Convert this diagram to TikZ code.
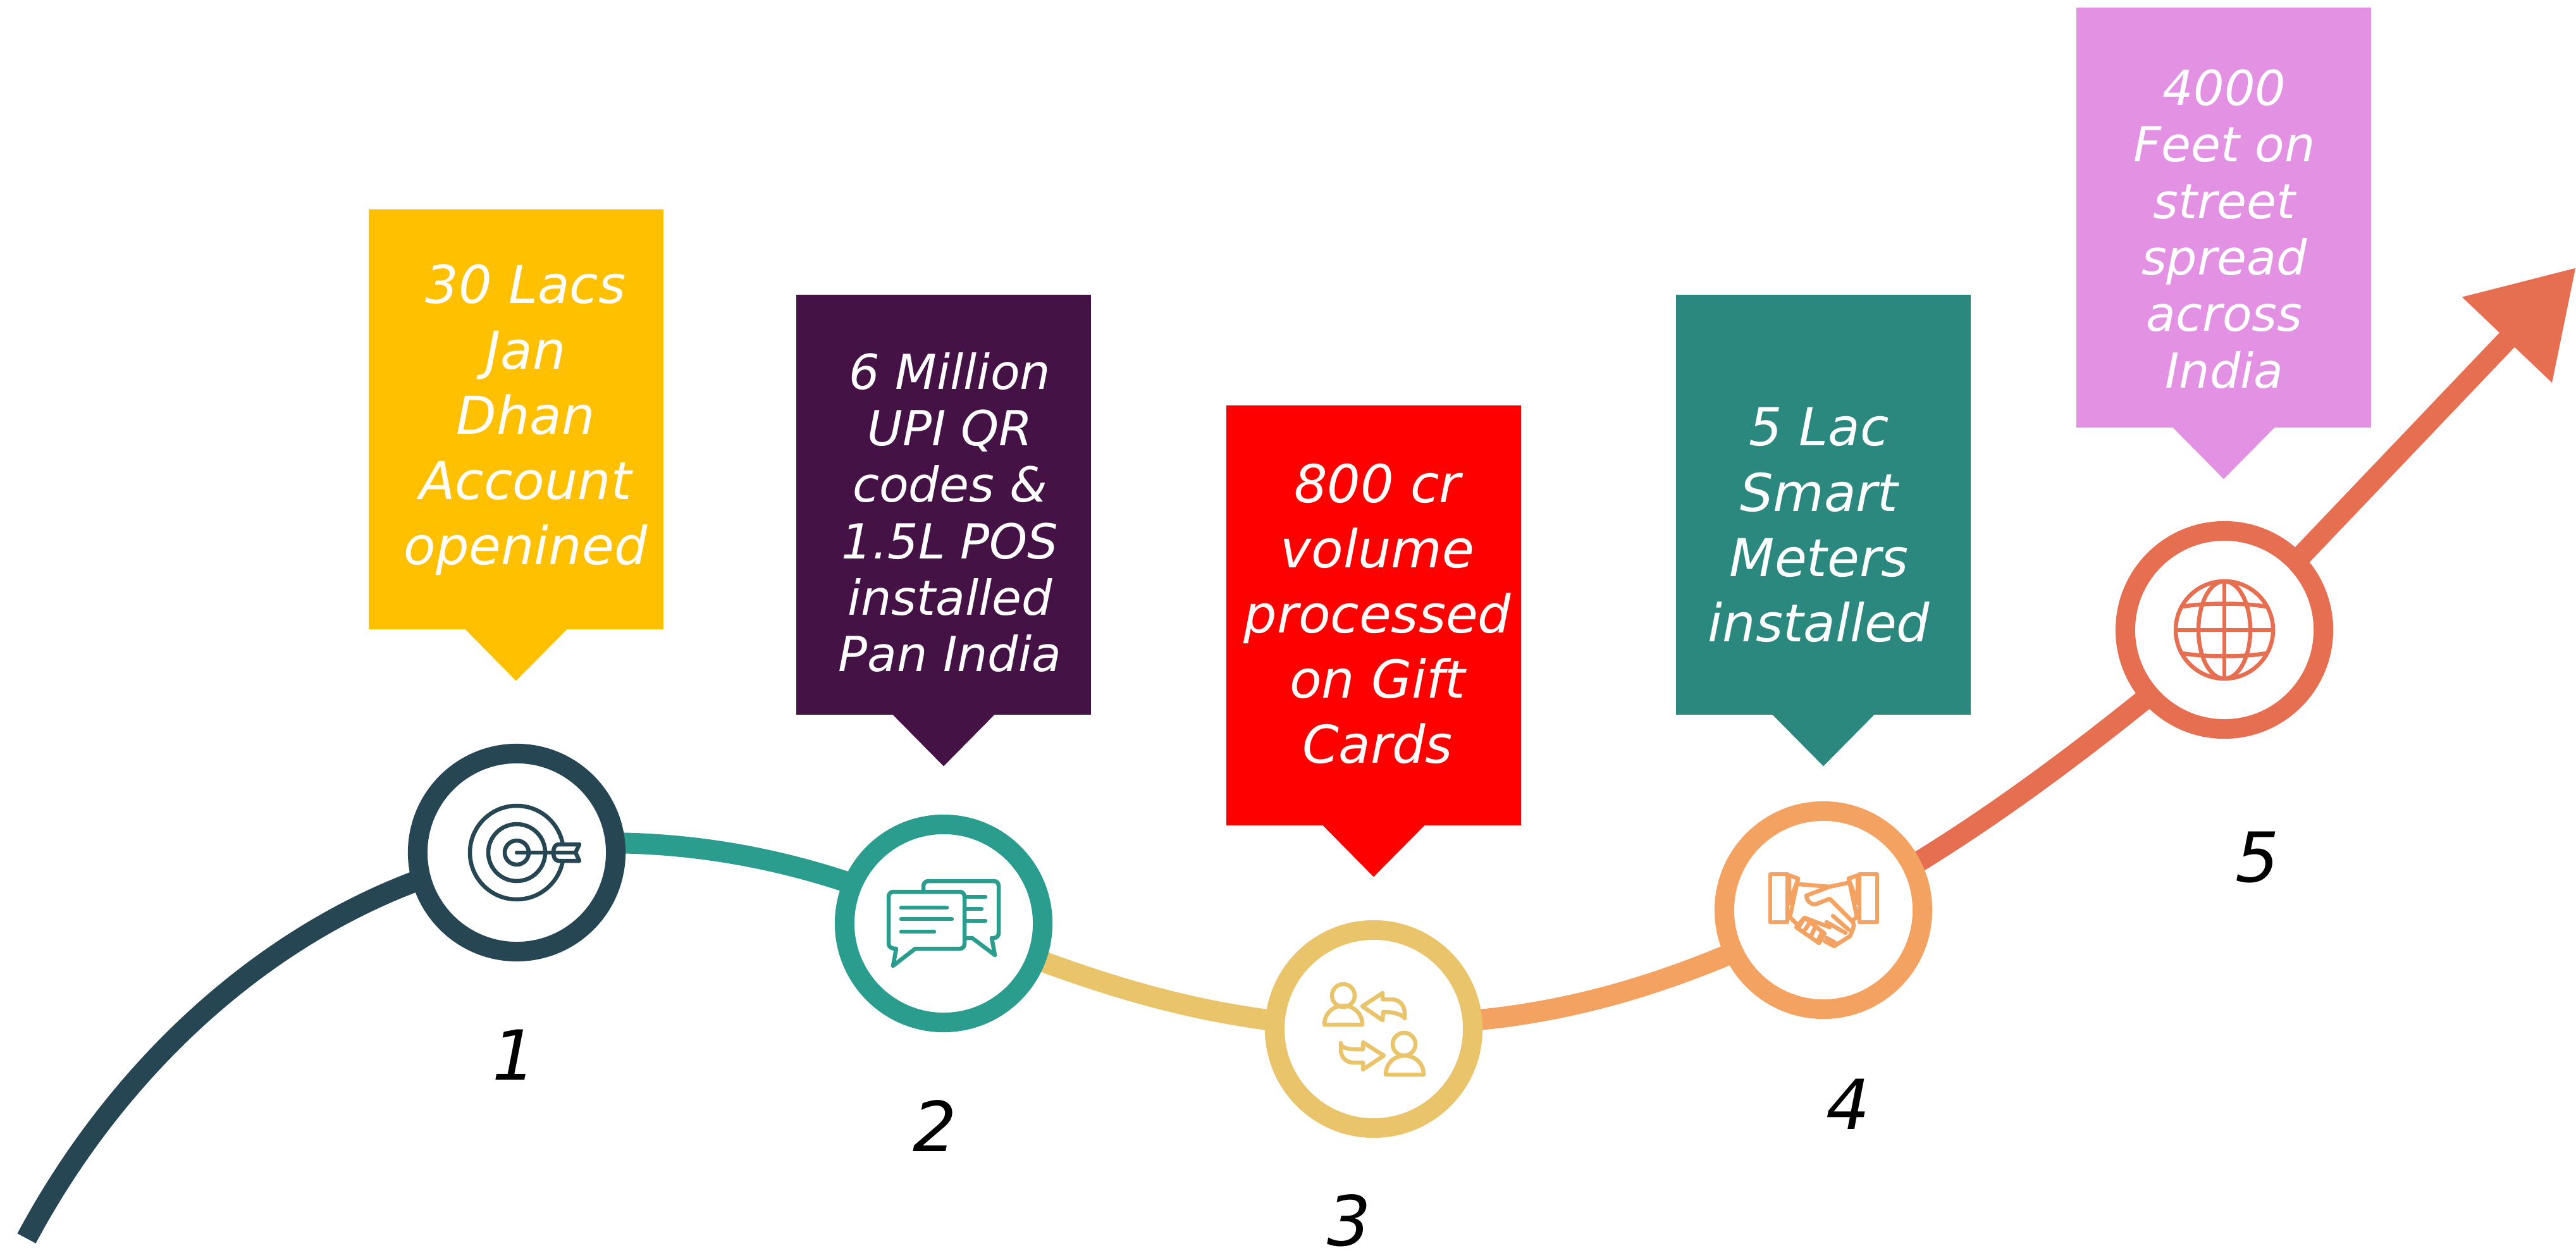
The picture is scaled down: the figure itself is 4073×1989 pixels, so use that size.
\documentclass[tikz,border=0pt]{standalone}
\usepackage{fontspec}
\setmainfont{DejaVu Sans}
\usetikzlibrary{arrows.meta,backgrounds}
\definecolor{ringa}{HTML}{264653}
\definecolor{ringb}{HTML}{2A9D8F}
\definecolor{ringc}{HTML}{E9C46A}
\definecolor{ringd}{HTML}{F4A261}
\definecolor{ringe}{HTML}{E76F51}
\definecolor{boxa}{HTML}{FFC000}
\definecolor{boxb}{HTML}{451245}
\definecolor{boxc}{HTML}{FF0000}
\definecolor{boxd}{HTML}{2A887E}
\definecolor{boxe}{HTML}{E291E3}
\tikzset{
  callbox/.style={rectangle, minimum width=4.65cm, minimum height=6.63cm, inner sep=0pt},
  bigtext/.style={text=white, align=center, inner sep=0pt, font=\fontsize{23.5}{29.3}\selectfont\itshape},
  smalltext/.style={text=white, align=center, inner sep=0pt, font=\fontsize{21.7}{25.4}\selectfont\itshape},
  numtext/.style={text=black, inner sep=0pt, font=\fontsize{31}{36}\selectfont\itshape},
  ring/.style={circle, draw=#1, line width=0.31cm, fill=white, minimum size=3.13cm, inner sep=0pt},
  trail/.style={draw=#1, line width=0.33cm, shorten <=-0.08cm, shorten >=-0.08cm},
  iconline/.style={draw=#1, line width=0.065cm, line join=round, line cap=round}
}
\begin{document}
\begin{tikzpicture}[x=0.01cm, y=-0.01cm]
  \useasboundingbox (0,0) rectangle (4073,1989);

  \node[callbox, fill=boxa] (b1) at (816,663) {};
  \node[callbox, fill=boxb] (b2) at (1492,798) {};
  \node[callbox, fill=boxc] (b3) at (2172,973) {};
  \node[callbox, fill=boxd] (b4) at (2883,798) {};
  \node[callbox, fill=boxe] (b5) at (3516,344) {};
  \foreach \b/\c in {b1/boxa, b2/boxb, b3/boxc, b4/boxd, b5/boxe}
    \fill[\c] ([xshift=-0.8cm]\b.south) -- ++(80,81) -- ++(80,-81) -- ++(0,-3) -- ++(-160,0) -- cycle;

  \node[bigtext] (t1) at (831,664) {30 Lacs\\Jan\\Dhan\\Account\\openined};
  \node[smalltext] (t2) at (1502,810) {6 Million\\UPI QR\\codes \&\\1.5L POS\\installed\\Pan India};
  \node[bigtext] (t3) at (2178,970) {800 cr\\volume\\processed\\on Gift\\Cards};
  \node[bigtext] (t4) at (2876,830) {5 Lac\\Smart\\Meters\\installed};
  \node[smalltext] (t5) at (3517,362) {4000\\Feet on\\street\\spread\\across\\India};

  \node[ring=ringa] (c1) at (817,1348) {};
  \node[ring=ringb] (c2) at (1492,1460) {};
  \node[ring=ringc] (c3) at (2172,1627) {};
  \node[ring=ringd] (c4) at (2883,1439) {};
  \node[ring=ringe] (c5) at (3517,996) {};

  \node[numtext] (n1) at (813,1668) {1};
  \node[numtext] (n2) at (1478,1780) {2};
  \node[numtext] (n3) at (2133,1930) {3};
  \node[numtext] (n4) at (2922,1746) {4};
  \node[numtext] (n5) at (3569,1356) {5};

  \coordinate (start) at (42,1958);
  \coordinate (tip) at (4073,423);
  \begin{scope}[on background layer]
    \draw[trail=ringa, shorten <=0pt] (start) .. controls (180,1700) and (400,1490) .. (c1.196);
    \draw[trail=ringb] (c1.5) .. controls (1100,1335) and (1220,1355) .. (c2.157);
    \draw[trail=ringc] (c2.-21) .. controls (1770,1565) and (1885,1597) .. (c3.175);
    \draw[trail=ringd] (c3.5) .. controls (2470,1600) and (2600,1565) .. (c4.205);
    \draw[trail=ringe] (c4.27) .. controls (3160,1285) and (3280,1195) .. (c5.221);
    \draw[trail=ringe, shorten >=0pt, -{Triangle[length=1.58cm, width=1.87cm]}] (c5.44) -- (tip);
  \end{scope}

  \begin{scope}[shift={(c1.center)}, iconline=ringa]
    \draw (0,0) circle[radius=74];
    \draw (0,0) circle[radius=45];
    \draw (0,0) circle[radius=19];
    \draw (0,0) -- (58,0);
    \draw[fill=white] (66,-13) -- (99,-13) -- (93,0) -- (99,13) -- (66,13)
      .. controls (60,13) and (58,6) .. (58,0) .. controls (58,-6) and (60,-13) .. (66,-13) -- cycle;
    \draw (62,0) -- (93,0);
  \end{scope}

  \begin{scope}[shift={(c2.center)}, iconline=ringb]
    \draw (-32,-52) -- (-32,-59) .. controls (-32,-64) and (-28,-67) .. (-24,-67) -- (79,-67)
      .. controls (84,-67) and (87,-64) .. (87,-59) -- (87,15) .. controls (87,20) and (84,23) .. (79,23)
      -- (76,23) -- (81,50) -- (45,23) -- (33,23);
    \draw (33,-42) -- (66,-42);
    \draw (33,-23) -- (60,-23);
    \draw (33,-4) -- (66,-4);
    \draw[fill=white] (-79,-50) -- (25,-50) .. controls (30,-50) and (33,-47) .. (33,-42) -- (33,32)
      .. controls (33,37) and (30,40) .. (25,40) -- (-45,40) -- (-80,67) -- (-75,40)
      .. controls (-83,40) and (-87,37) .. (-87,32) -- (-87,-42) .. controls (-87,-47) and (-84,-50) .. (-79,-50) -- cycle;
    \draw (-67,-25) -- (5,-25);
    \draw (-67,-7) -- (13,-7);
    \draw (-67,13) -- (-15,13);
  \end{scope}

  \begin{scope}[shift={(c3.center)}, iconline=ringc]
    \draw (-48,-53) circle[radius=18];
    \draw (-78,-7) -- (-18,-7) .. controls (-18,-25) and (-32,-37) .. (-48,-37) .. controls (-64,-37) and (-78,-25) .. (-78,-7) -- cycle;
    \draw (-18,-36) -- (14,-57) -- (14,-47) -- (28,-47) .. controls (42,-47) and (49,-36) .. (49,-25)
      -- (49,-17) .. controls (44,-24) and (30,-27) .. (15,-27) -- (14,-14) -- cycle;
    \draw (48,24) circle[radius=18];
    \draw (19,72) -- (79,72) .. controls (79,54) and (65,42) .. (49,42) .. controls (33,42) and (19,54) .. (19,72) -- cycle;
    \draw (16,42) -- (-17,21) -- (-17,32) -- (-30,32) .. controls (-42,32) and (-52,29) .. (-52,22)
      -- (-52,33) .. controls (-52,44) and (-44,53) .. (-32,53) -- (-17,53) -- (-17,64) -- cycle;
  \end{scope}

  \begin{scope}[shift={(c4.center)}, iconline=ringd]
    \draw (-84,-57) rectangle (-57,19);
    \draw (57,-57) rectangle (85,19);
    \draw (-57,-56) -- (-40,-50) -- (-53,11) -- (-43,21);
    \draw (-54,-49) -- (-54,-11) -- (-40,-49);
    \draw (57,-56) -- (40,-50) -- (53,11) -- (45,17);
    \draw (54,-49) -- (54,-11) -- (40,-49);
    \draw (-38,-41) -- (10,-37);
    \draw (38,-43) -- (10,-37) -- (-27,-23) .. controls (-26,-14) and (-20,-9) .. (-13,-9) -- (10,-18) -- (45,17);
    \draw (45,17) .. controls (50,22) and (48,28) .. (42,41) -- (17,57) -- (2,49);
    \draw (15,9) -- (40,31);
    \draw (5,19) -- (35,36);
    \draw (5,44) -- (18,51);
    \draw (-43,27) -- (-7,52) -- (2,37) -- (-30,12) -- cycle;
    \draw (-30,12) -- (10,27);
    \draw (-33,17) -- (-40,29);
    \draw (-23,22) -- (-32,35);
    \draw (-13,27) -- (-20,42);
    \draw (-3,37) -- (-8,47);
  \end{scope}

  \begin{scope}[shift={(c5.center)}, iconline=ringe]
    \draw (0,0) circle[radius=77];
    \draw (0,0) ellipse[x radius=41, y radius=77];
    \draw (0,-77) -- (0,77);
    \draw (-77,0) -- (77,0);
    \draw (-66,-37) .. controls (-30,-43) and (30,-43) .. (66,-37);
    \draw (-66,37) .. controls (-30,43) and (30,43) .. (66,37);
  \end{scope}
\end{tikzpicture}
\end{document}
